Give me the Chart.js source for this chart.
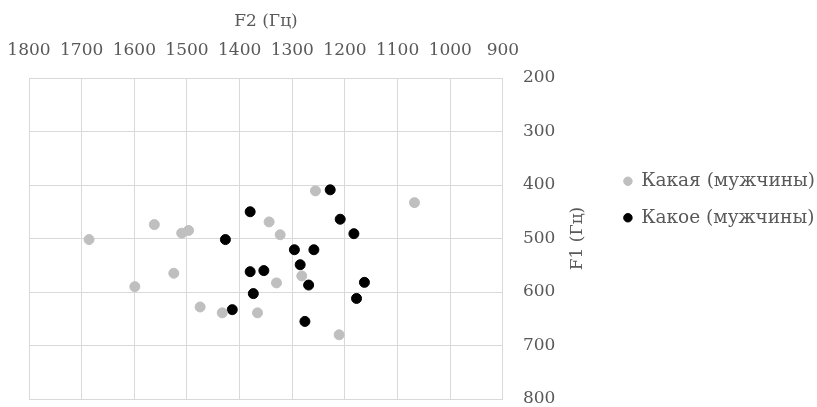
<!DOCTYPE html>
<html>
<head>
<meta charset="utf-8">
<script src="https://cdn.jsdelivr.net/npm/chart.js@4"></script>
<style>
  html, body { margin: 0; padding: 0; background: #fff; }
  #wrap { width: 817px; height: 407px; }
</style>
</head>
<body>
<div id="wrap"><canvas id="chart"></canvas></div>
<script>
// F2 / F1 (Гц), мужчины
const kakayaF2 = [1686, 1562, 1510, 1497, 1344, 1323, 1256, 1068, 1525, 1599, 1475, 1433, 1366, 1330, 1282, 1211];
const kakayaF1 = [502, 474, 490, 485, 469, 493, 411, 433, 565, 590, 628, 639, 639, 583, 570, 680];
const kakoeF2 = [1380, 1427, 1228, 1209, 1183, 1296, 1259, 1285, 1354, 1269, 1163, 1178, 1276, 1380, 1374, 1414];
const kakoeF1 = [450, 502, 409, 464, 491, 521, 521, 549, 560, 587, 582, 612, 655, 562, 603, 633];

const seriesNames = ['Какая (мужчины)', 'Какое (мужчины)'];
const xTitle = 'F2 (Гц)';
const yTitle = 'F1 (Гц)';

const FONT = "'DejaVu Serif', serif";
const FS = 17;
const TXT = '#595959';
const GRID = '#d9d9d9';

const toPoints = (xs, ys) => xs.map((x, i) => ({ x: x, y: ys[i] }));

// подпись оси F1 (снизу вверх, как в оригинале)
const yTitlePlugin = {
  id: 'yTitle',
  afterDraw(chart) {
    const ca = chart.chartArea;
    const ctx = chart.ctx;
    ctx.save();
    ctx.fillStyle = TXT;
    ctx.font = FS + 'px ' + FONT;
    ctx.textAlign = 'center';
    ctx.textBaseline = 'middle';
    ctx.translate(ca.right + 75, (ca.top + ca.bottom) / 2);
    ctx.rotate(-Math.PI / 2);
    ctx.fillText(yTitle, 0, 0);
    ctx.restore();
  }
};

// легенде нужно чуть больше места, чем даёт раскладка по умолчанию
const legendWidthPlugin = {
  id: 'legendWidth',
  beforeUpdate(chart) {
    const lg = chart.legend;
    if (lg && !lg._wide) {
      const orig = lg.update;
      lg.update = function (mw, mh, m) { return orig.call(this, 260, mh, m); };
      lg._wide = true;
    }
  }
};

new Chart(document.getElementById('chart').getContext('2d'), {
  type: 'scatter',
  data: {
    datasets: [
      {
        label: seriesNames[0],
        data: toPoints(kakayaF2, kakayaF1),
        backgroundColor: '#bfbfbf',
        borderColor: '#bfbfbf',
        pointRadius: 5,
        pointHoverRadius: 5
      },
      {
        label: seriesNames[1],
        data: toPoints(kakoeF2, kakoeF1),
        backgroundColor: '#000000',
        borderColor: '#000000',
        pointRadius: 5,
        pointHoverRadius: 5
      }
    ]
  },
  options: {
    responsive: true,
    maintainAspectRatio: false,
    animation: false,
    layout: { padding: { left: 29, top: 0, right: -8, bottom: 8 } },
    plugins: {
      tooltip: { enabled: false },
      legend: {
        position: 'right',
        labels: {
          usePointStyle: true,
          pointStyle: 'circle',
          boxWidth: 8,
          boxHeight: 6,
          padding: 18,
          color: TXT,
          font: { family: FONT, size: 18.5 }
        }
      }
    },
    scales: {
      x: {
        type: 'linear',
        position: 'top',
        reverse: true,
        min: 900,
        max: 1800,
        ticks: {
          stepSize: 100,
          autoSkip: false,
          maxRotation: 0,
          padding: 17,
          color: TXT,
          font: { family: FONT, size: FS },
          callback: v => String(v)
        },
        grid: { color: GRID, lineWidth: 1, drawTicks: false },
        border: { color: GRID },
        title: {
          display: true,
          text: xTitle,
          color: TXT,
          font: { family: FONT, size: FS },
          padding: { top: 11, bottom: 0 }
        },
        afterFit(scale) {
          scale.height = 78;
          scale.paddingLeft = 0;
          scale.paddingRight = 0;
        }
      },
      y: {
        type: 'linear',
        position: 'right',
        reverse: true,
        min: 200,
        max: 800,
        ticks: {
          stepSize: 100,
          padding: 20,
          color: TXT,
          font: { family: FONT, size: FS },
          callback: v => String(v)
        },
        grid: { color: GRID, lineWidth: 1, drawTicks: false },
        border: { color: GRID },
        afterFit(scale) {
          scale.width = 103;
          scale.paddingTop = 0;
          scale.paddingBottom = 0;
        }
      }
    }
  },
  plugins: [yTitlePlugin, legendWidthPlugin]
});
</script>
</body>
</html>
